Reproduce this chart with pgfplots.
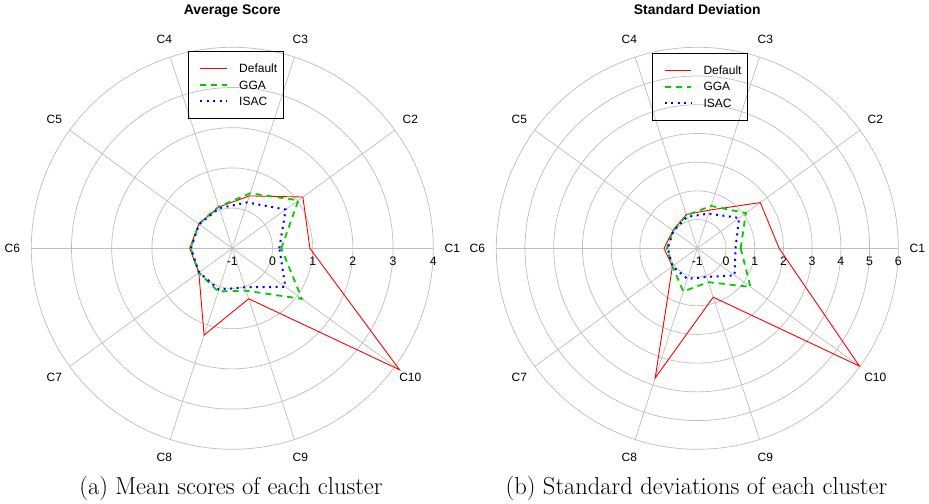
\documentclass[border=0pt]{standalone}
\usepackage{fontspec}
\usepackage{pgfplots}
\usepackage{pgfplotstable}
\pgfplotsset{compat=1.18}
\newfontfamily\arial{Liberation Sans}
\definecolor{gridc}{RGB}{190,190,190}
\definecolor{ggagreen}{RGB}{0,205,0}

% angle (deg), Default, GGA, ISAC  (first point repeated to close polygon)
\pgfplotstableread{
a   d     g     i
0   0.93  0.22  0.17
36  1.17  1.03  0.64
72  0.37  0.44  0.20
108 0.08  0.09  0.05
144 0.03  0.03  0.02
180 0.06  0.04  0.03
216 0.03  0.03  0.02
252 1.27  0.13  0.08
288 0.32  0.11  0.02
324 4.14  1.14  0.63
360 0.93  0.22  0.17
}\meantab

\pgfplotstableread{
a   d     g     i
0   1.85  0.51  0.33
36  1.71  1.09  0.80
72  0.40  0.55  0.27
108 0.24  0.21  0.15
144 0.05  0.05  0.03
180 0.16  0.06  0.03
216 0.07  0.07  0.07
252 3.75  0.58  0.12
288 0.79  0.24  0.05
324 5.98  1.29  0.60
360 1.85  0.51  0.33
}\sdtab

\pgfplotsset{
  radar/.style={anchor=center, x=201pt, y=201pt,
    xmin=-1, xmax=1, ymin=-1, ymax=1, hide axis, clip=false},
  defst/.style={color=red, line width=0.9pt, solid},
  ggast/.style={color=ggagreen, line width=1.8pt, dash pattern=on 6pt off 5pt},
  isacst/.style={color=blue, line width=2pt, dash pattern=on 2pt off 4.5pt},
}
\tikzset{legtext/.style={font=\arial\fontsize{12}{14}\selectfont, anchor=west, inner sep=0pt, text=black}}

\begin{document}
\begin{tikzpicture}
\path (0,0) rectangle (929pt,503pt);

% ---------- left grid ----------
\foreach \k in {1,...,5}
  \draw[gridc, line width=0.7pt] (232.3pt,254.7pt) circle[radius=\k*40.2pt];
\foreach \ang in {0,36,...,324}
  \draw[gridc, line width=0.7pt] (232.3pt,254.7pt) -- ++(\ang:201pt);
\foreach \ang/\lab in {0/C1,36/C2,72/C3,108/C4,144/C5,180/C6,216/C7,252/C8,288/C9,324/C10}
  \node[font=\arial\fontsize{12}{14}\selectfont] at ([shift={(\ang:220pt)}]232.3pt,254.7pt) {\lab};
\foreach \v [count=\k from 0] in {-1,0,1,2,3,4}
  \node[font=\arial\fontsize{12.3}{14}\selectfont] at ({232.3pt+\k*40.2pt},241.3pt) {\v};

% ---------- right grid ----------
\foreach \k in {1,...,7}
  \draw[gridc, line width=0.7pt] (697.3pt,254.7pt) circle[radius=\k*28.714pt];
\foreach \ang in {0,36,...,324}
  \draw[gridc, line width=0.7pt] (697.3pt,254.7pt) -- ++(\ang:201pt);
\foreach \ang/\lab in {0/C1,36/C2,72/C3,108/C4,144/C5,180/C6,216/C7,252/C8,288/C9,324/C10}
  \node[font=\arial\fontsize{12}{14}\selectfont] at ([shift={(\ang:220pt)}]697.3pt,254.7pt) {\lab};
\foreach \v [count=\k from 0] in {-1,0,1,2,3,4,5,6}
  \node[font=\arial\fontsize{12.3}{14}\selectfont] at ({697.3pt+\k*28.714pt},241.3pt) {\v};

% ---------- left radar ----------
\begin{axis}[radar, at={(232.3pt,254.7pt)}]
\addplot[defst] table[x expr={(\thisrow{d}+1)/5*cos(\thisrow{a})}, y expr={(\thisrow{d}+1)/5*sin(\thisrow{a})}] {\meantab};
\addplot[ggast] table[x expr={(\thisrow{g}+1)/5*cos(\thisrow{a})}, y expr={(\thisrow{g}+1)/5*sin(\thisrow{a})}] {\meantab};
\addplot[isacst] table[x expr={(\thisrow{i}+1)/5*cos(\thisrow{a})}, y expr={(\thisrow{i}+1)/5*sin(\thisrow{a})}] {\meantab};
% legend
\draw[black, line width=1pt] (axis cs:-0.2189,0.9786) rectangle (axis cs:0.2537,0.6468);
\addplot[defst, forget plot] coordinates {(-0.1607,0.895) (-0.0279,0.895)};
\addplot[ggast, forget plot] coordinates {(-0.1607,0.812) (-0.0279,0.812)};
\addplot[isacst, forget plot] coordinates {(-0.1607,0.733) (-0.0279,0.733)};
\node[legtext] at (axis cs:0.0333,0.895) {Default};
\node[legtext] at (axis cs:0.0333,0.812) {GGA};
\node[legtext] at (axis cs:0.0333,0.733) {ISAC};
\end{axis}

% ---------- right radar ----------
\begin{axis}[radar, at={(697.3pt,254.7pt)}]
\addplot[defst] table[x expr={(\thisrow{d}+1)/7*cos(\thisrow{a})}, y expr={(\thisrow{d}+1)/7*sin(\thisrow{a})}] {\sdtab};
\addplot[ggast] table[x expr={(\thisrow{g}+1)/7*cos(\thisrow{a})}, y expr={(\thisrow{g}+1)/7*sin(\thisrow{a})}] {\sdtab};
\addplot[isacst] table[x expr={(\thisrow{i}+1)/7*cos(\thisrow{a})}, y expr={(\thisrow{i}+1)/7*sin(\thisrow{a})}] {\sdtab};
% legend
\draw[black, line width=1pt] (axis cs:-0.2219,0.970) rectangle (axis cs:0.2507,0.638);
\addplot[defst, forget plot] coordinates {(-0.1627,0.887) (-0.0299,0.887)};
\addplot[ggast, forget plot] coordinates {(-0.1627,0.804) (-0.0299,0.804)};
\addplot[isacst, forget plot] coordinates {(-0.1627,0.721) (-0.0299,0.721)};
\node[legtext] at (axis cs:0.0299,0.887) {Default};
\node[legtext] at (axis cs:0.0299,0.804) {GGA};
\node[legtext] at (axis cs:0.0299,0.721) {ISAC};
\end{axis}

% ---------- titles and captions ----------
\node[font=\arial\bfseries\fontsize{13.9}{16}\selectfont, anchor=base] at (232.3pt,488.5pt) {Average Score};
\node[font=\arial\bfseries\fontsize{13.9}{16}\selectfont, anchor=base] at (697.3pt,488.5pt) {Standard Deviation};
\node[font=\fontsize{24.5}{28}\selectfont, anchor=base] at (231pt,8.5pt) {(a) Mean scores of each cluster};
\node[font=\fontsize{24.5}{28}\selectfont, anchor=base] at (696.5pt,8.5pt) {(b) Standard deviations of each cluster};
\end{tikzpicture}
\end{document}
